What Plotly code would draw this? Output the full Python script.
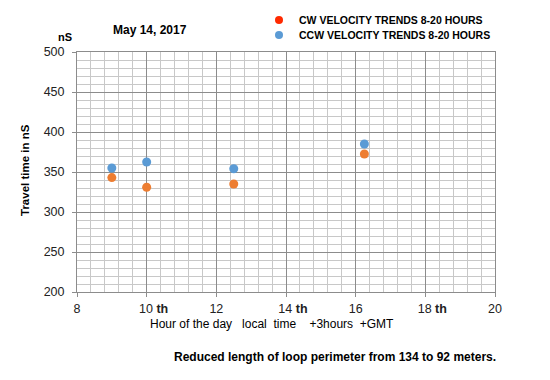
import plotly.graph_objects as go

hours = [9, 10, 12.5, 16.25]
cw_ns = [343, 331, 335, 372.5]
ccw_ns = [355, 362.5, 354, 385]
x_tickvals = [8, 10, 12, 14, 16, 18, 20]
x_ticktext = ["8", "10 <b>th</b>", "12", "14 <b>th</b>", "16", "18 <b>th</b>", "20"]
legend_names = ["CW VELOCITY TRENDS 8-20 HOURS", "CCW VELOCITY TRENDS 8-20 HOURS"]

FONT = "Liberation Sans, Arial, sans-serif"
ORANGE = "#ED7D31"
BLUE = "#5B9BD5"
RED = "#FF2A00"
MAJOR = "#8C8C8C"
MINOR = "#C8C8C8"

# page body has an 8px margin; figure is sized to fit the 550x380 window
OFF = 8
W, H = 550 - OFF, 380 - OFF
# plot area in window pixels: x 77..495, y 52..292
PL, PR, PT, PB = 77, 495, 52, 292
L, R, T, B = PL - OFF, W - (PR - OFF), PT - OFF, H - (PB - OFF)
PW, PH = PR - PL, PB - PT


def px(x):
    return (x - PL) / PW


def py(y):
    return (PB - y) / PH


# labels with a bold suffix sit to the right of their tick, as in the original
tick_labels = [("\u00a0" * 4 + t) if "<b>" in t else t for t in x_ticktext]

fig = go.Figure()
fig.add_trace(go.Scatter(x=hours, y=cw_ns, mode="markers", showlegend=False,
                         marker=dict(color=ORANGE, size=9)))
fig.add_trace(go.Scatter(x=hours, y=ccw_ns, mode="markers", showlegend=False,
                         marker=dict(color=BLUE, size=9)))
# legend-only entries
fig.add_trace(go.Scatter(x=[None], y=[None], mode="markers", name=legend_names[0],
                         legend="legend", marker=dict(color=RED, size=8)))
fig.add_trace(go.Scatter(x=[None], y=[None], mode="markers", name=legend_names[1],
                         legend="legend2", marker=dict(color=BLUE, size=8)))

leg_font = dict(size=10.5, color="black", family=FONT, weight="bold")
fig.update_layout(
    width=W, height=H,
    margin=dict(l=L, r=R, t=T, b=B, autoexpand=False),
    paper_bgcolor="white", plot_bgcolor="white",
    font=dict(family=FONT, size=12, color="#222"),
    legend=dict(x=px(259), y=py(20), xanchor="left", yanchor="middle",
                font=leg_font, bgcolor="rgba(0,0,0,0)", itemwidth=30),
    legend2=dict(x=px(259), y=py(35), xanchor="left", yanchor="middle",
                 font=leg_font, bgcolor="rgba(0,0,0,0)", itemwidth=30),
    xaxis=dict(range=[8, 20], tickvals=x_tickvals, ticktext=tick_labels,
               showgrid=True, gridcolor=MAJOR, gridwidth=1,
               showline=True, linecolor=MAJOR, mirror=True,
               ticks="outside", ticklen=4, tickcolor=MAJOR,
               tickfont=dict(size=12.5, color="#222"), ticklabelstandoff=1,
               minor=dict(dtick=0.4, tick0=8, showgrid=True, gridcolor=MINOR, gridwidth=1),
               zeroline=False, fixedrange=True),
    yaxis=dict(range=[200, 500], dtick=50, tick0=200,
               showgrid=True, gridcolor=MAJOR, gridwidth=1,
               showline=True, linecolor=MAJOR, mirror=True,
               ticks="outside", ticklen=4, tickcolor=MAJOR,
               tickfont=dict(size=12.5, color="#222"), ticklabelstandoff=5,
               minor=dict(dtick=10, showgrid=True, gridcolor=MINOR, gridwidth=1),
               zeroline=False, fixedrange=True),
    showlegend=True,
)

ann = [
    dict(text="<b>May 14, 2017</b>", x=150, y=30, size=12),
    dict(text="<b>nS</b>", x=65, y=37, size=11),
    dict(text="Hour of the day\u00a0\u00a0\u00a0local\u00a0\u00a0time\u00a0\u00a0\u00a0\u00a0+3hours\u00a0\u00a0+GMT",
         x=272, y=324, size=12),
    dict(text="<b>Reduced length of loop perimeter from 134 to 92 meters.</b>", x=335, y=357, size=12),
]
for a in ann:
    fig.add_annotation(text=a["text"], xref="paper", yref="paper",
                       x=px(a["x"]), y=py(a["y"]),
                       xanchor="center", yanchor="middle", showarrow=False,
                       font=dict(size=a["size"], color="black", family=FONT))
fig.add_annotation(text="<b>Travel time in nS</b>", xref="paper", yref="paper",
                   x=px(25), y=py(170), textangle=-90,
                   xanchor="center", yanchor="middle", showarrow=False,
                   font=dict(size=11.5, color="black", family=FONT))

fig.write_html("out.html")
